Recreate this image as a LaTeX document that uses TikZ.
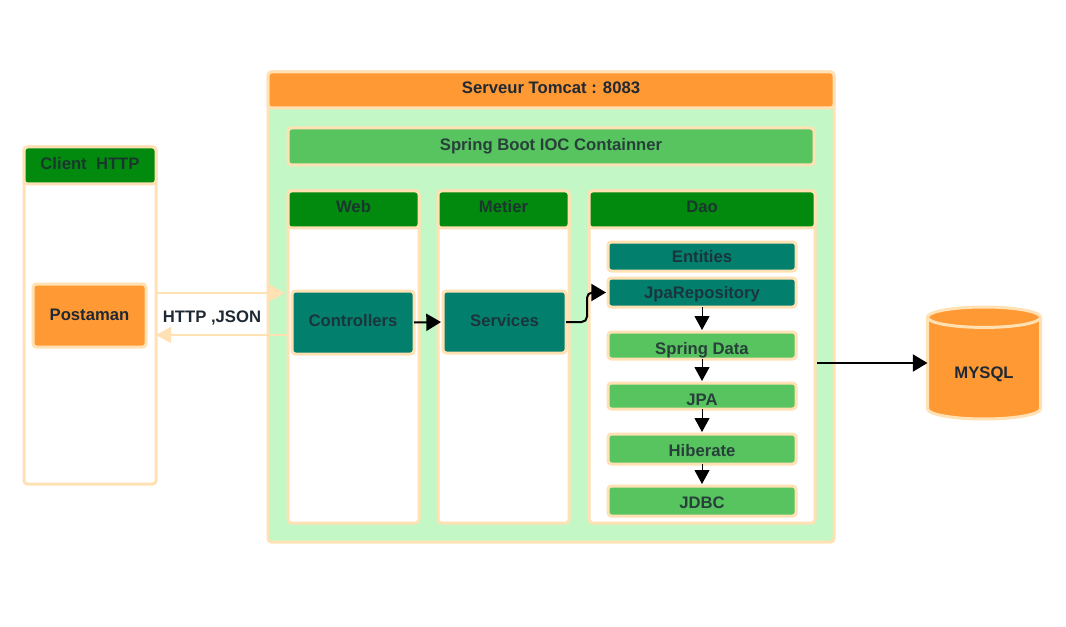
\documentclass[tikz,border=0pt]{standalone}
\usepackage{fontspec}
\setmainfont{Liberation Sans}
\usetikzlibrary{calc,arrows.meta,shapes.geometric}
\definecolor{edge}{HTML}{FFE1B4}
\definecolor{orangebox}{HTML}{FF9933}
\definecolor{headgreen}{HTML}{028A0F}
\definecolor{tealbox}{HTML}{037F6E}
\definecolor{lightbox}{HTML}{57C45F}
\definecolor{mint}{HTML}{C3F7C6}
\definecolor{ink}{HTML}{1F2933}
\tikzset{
    box/.style 2 args={draw=edge,line width=2.25pt,rounded corners=2.5pt,anchor=north west,outer sep=0pt,
        inner sep=0pt,minimum width=#1*0.75pt,minimum height=#2*0.75pt,font=\bfseries\fontsize{12.5}{14}\selectfont,
        text=ink,text opacity=0.85,text depth=0pt},
    flow/.style={draw=black,line width=1.5pt,-{Triangle[length=11pt,width=12.75pt]}},
    thin flow/.style={draw=black,line width=0.75pt,shorten >=1.5pt,-{Triangle[length=10.5pt,width=11.25pt]}},
    soft/.style={draw=edge,line width=1.5pt,-{Triangle[length=11.25pt,width=12pt]}}
}
\begin{document}
\begin{tikzpicture}[x=0.75pt,y=0.75pt,yscale=-1,xscale=1]
\useasboundingbox (0,0) rectangle (1066,627);

%Client
\node [box={132}{337},fill=white] (client) at (24,147) {};
\node [box={132}{37},fill=headgreen,text height=6pt] (clienthead) at (24,147) {Client\ \ HTTP};
\node [box={113}{63},fill=orangebox,text opacity=1,text height=6.75pt] (postaman) at (33,284) {Postaman};

%Tomcat
\node [box={566}{470},fill=mint] (tomcat) at (268,72) {};
\node [box={566}{36},fill=orangebox,text opacity=1,text height=6pt] (tomcathead) at (268,72) {Serveur Tomcat : 8083};
\node [box={526}{37},fill=lightbox,text height=6pt] (ioc) at (288,128) {Spring Boot IOC Containner};

%Web
\node [box={131}{332},fill=white] (web) at (288,191) {};
\node [box={131}{37},fill=headgreen,text height=5.25pt] (webhead) at (288,191) {Web};
\node [box={122}{63},fill=tealbox,text height=5.25pt] (controllers) at (292,291) {Controllers};

%Metier
\node [box={131}{332},fill=white] (metier) at (438,191) {};
\node [box={131}{37},fill=headgreen,text height=5.25pt] (metierhead) at (438,191) {Metier};
\node [box={123}{62},fill=tealbox,text height=6pt] (services) at (443,291) {Services};

%Dao
\node [box={226}{332},fill=white] (dao) at (589,191) {};
\node [box={226}{37},fill=headgreen,text height=5.25pt] (daohead) at (589,191) {Dao};
\node [box={188}{29},fill=tealbox,text height=9pt] (entities) at (608,242) {Entities};
\node [box={188}{29},fill=tealbox,text height=8.25pt] (jparepo) at (608,278) {JpaRepository};
\node [box={188}{27},fill=lightbox,text height=12.75pt] (springdata) at (608,332) {Spring Data};
\node [box={188}{26},fill=lightbox,text height=13.5pt] (jpa) at (608,383) {JPA};
\node [box={188}{30},fill=lightbox,text height=11.25pt] (hibernate) at (608,434) {Hiberate};
\node [box={188}{30},fill=lightbox,text height=10.5pt] (jdbc) at (608,486) {JDBC};

%MYSQL
\node [cylinder,shape border rotate=90,aspect=0.3,draw=edge,line width=2.25pt,fill=orangebox,outer sep=0pt,anchor=shape center,
    minimum width=113*0.75pt,minimum height=112*0.75pt,font=\bfseries\fontsize{12.5}{14}\selectfont,text=ink,
    text height=12pt,text depth=0pt] (mysql) at (984,363) {MYSQL};

%HTTP arrows
\coordinate (httpin) at (285,293);
\coordinate (httpout) at (288,335);
\draw [soft] (client.east |- httpin) -- (httpin);
\draw [soft] (httpout) -- (client.east |- httpout);
\node [font=\bfseries\fontsize{12.5}{14}\selectfont,text=ink,inner sep=0pt] (httplabel) at (212,317.5) {HTTP ,JSON};

%Flow arrows
\coordinate (bend) at ($(services.east)!0.5!(jparepo.west)$);
\coordinate (daoout) at (817,363);
\draw [flow,shorten >=1.5pt] (controllers.east) -- (services.west);
\draw [flow,rounded corners=4pt,shorten >=1.5pt] (services.east) -- (bend |- services.east) -- (bend |- jparepo.west) -- (jparepo.west);
\draw [thin flow] (jparepo.south) -- (springdata.north);
\draw [thin flow] (springdata.south) -- (jpa.north);
\draw [thin flow] (jpa.south) -- (hibernate.north);
\draw [thin flow] (hibernate.south) -- (jdbc.north);
\draw [flow] (daoout) -- (mysql.west |- daoout);

\end{tikzpicture}
\end{document}
